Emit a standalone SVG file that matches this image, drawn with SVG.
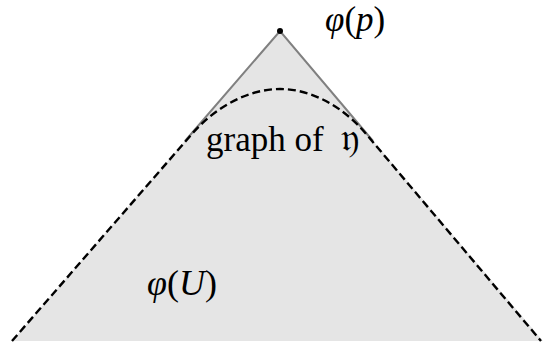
<svg xmlns="http://www.w3.org/2000/svg" width="543" height="350" viewBox="0 0 543 350">
<style>
.m{font-family:"Liberation Serif","DejaVu Serif",serif;font-style:italic;fill:#000}
.t{font-family:"Liberation Serif","DejaVu Serif",serif;fill:#000}
</style>
<rect width="543" height="350" fill="#fff"/>
<g id="region">
<polygon points="280,31 543,341 12,341" fill="#e5e5e5"/>
<polyline points="185,141 280,31 373,141" fill="none" stroke="#808080" stroke-width="2"/>
<circle cx="280" cy="31" r="3" fill="#000"/>
</g>
<g id="connectors">
<path d="M12,341 L191,135 C217,105 250,89 280,89 C310,89 342,105 367,135 L541,341" fill="none" stroke="#000" stroke-width="2.4" stroke-dasharray="8,4"/>
</g>
<g id="labels">
<text class="m" x="325" y="31" font-size="35">φ<tspan font-style="normal">(</tspan>p<tspan font-style="normal">)</tspan></text>
<text class="t" x="206" y="151" font-size="35">graph of</text>
<text x="341" y="151" font-size="40" font-family="'DejaVu Serif','DejaVu Sans',serif">𝔶</text>
<text class="m" x="147" y="295" font-size="36">φ<tspan font-style="normal">(</tspan>U<tspan font-style="normal">)</tspan></text>
</g>
</svg>
